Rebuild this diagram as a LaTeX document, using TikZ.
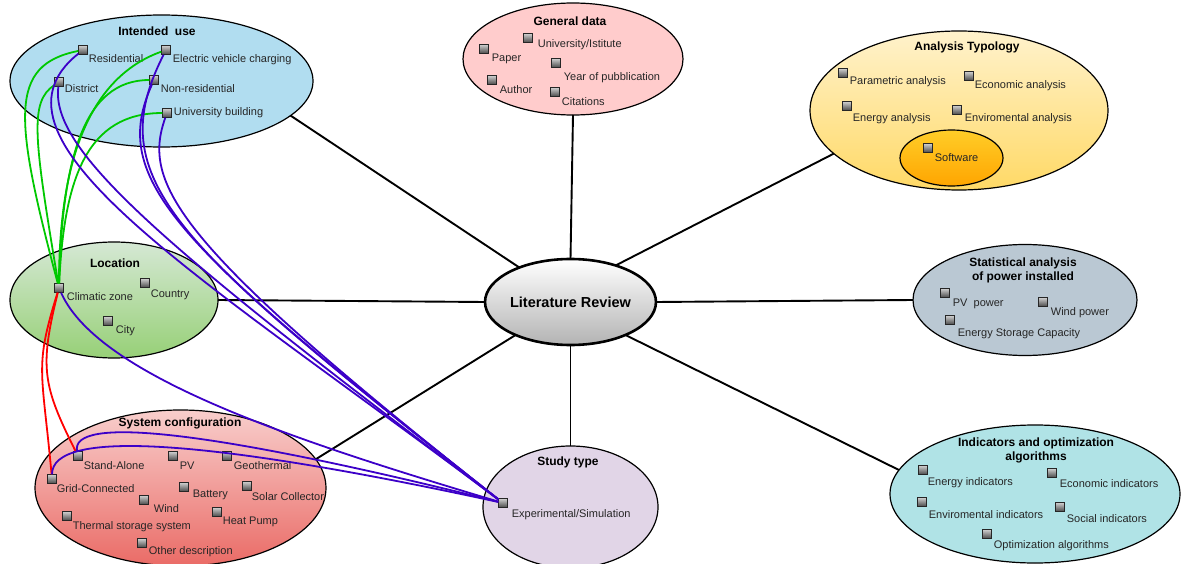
\documentclass[tikz,border=0pt]{standalone}
\usepackage{fontspec}
\setmainfont{Liberation Sans}
\usetikzlibrary{shapes.geometric, positioning}

\definecolor{usefill}{HTML}{B1DDF0}
\definecolor{genfill}{HTML}{FFCCCC}
\definecolor{anatop}{HTML}{FFF2CC}
\definecolor{anabot}{HTML}{FFD966}
\definecolor{swtop}{HTML}{FFCD28}
\definecolor{swbot}{HTML}{FFA500}
\definecolor{loctop}{HTML}{D5E8D4}
\definecolor{locbot}{HTML}{97D077}
\definecolor{litbot}{HTML}{B3B3B3}
\definecolor{statfill}{HTML}{BAC8D3}
\definecolor{systop}{HTML}{F8CECC}
\definecolor{sysbot}{HTML}{EA6B66}
\definecolor{studyfill}{HTML}{E1D5E7}
\definecolor{indfill}{HTML}{B0E3E6}
\definecolor{relgreen}{RGB}{0,200,0}
\definecolor{relblue}{RGB}{60,0,200}
\definecolor{relred}{RGB}{255,0,0}

\begin{document}
\begin{tikzpicture}[
    x=1pt, y=-1pt,
    group/.style={ellipse, draw=black, line width=1.2pt, inner sep=0pt, outer sep=0pt},
    ttl/.style={font=\bfseries\fontsize{12}{14}\selectfont, inner sep=0pt, text height=8.6pt, text depth=0pt},
    ttltwo/.style={font=\bfseries\fontsize{12}{14}\selectfont, inner sep=0pt, align=center},
    sq/.style={rectangle, draw=black!85, top color=black!20, bottom color=black!70, minimum size=8.5pt, inner sep=0pt, line width=0.9pt},
    lbl/.style={font=\fontsize{11}{13}\selectfont, text=black!85, inner sep=0pt, text height=7.9pt, text depth=2pt},
    link/.style={draw=black, line width=1.9pt},
    greenrel/.style={draw=relgreen, line width=1.8pt},
    bluerel/.style={draw=relblue, line width=1.8pt},
    redrel/.style={draw=relred, line width=1.8pt}
]
    \path[use as bounding box, fill=white] (0,0) rectangle (1181,564);

    % groups
    \node[group, fill=usefill, minimum width=303pt, minimum height=132pt] (use) at (161.5,81) {};
    \node[group, fill=genfill, minimum width=220pt, minimum height=112pt] (gen) at (573,59) {};
    \node[group, top color=anatop, bottom color=anabot, minimum width=298pt, minimum height=159pt] (ana) at (959,110.5) {};
    \node[group, top color=swtop, bottom color=swbot, minimum width=103pt, minimum height=56pt] (soft) at (951.5,158) {};
    \node[group, top color=loctop, bottom color=locbot, minimum width=208pt, minimum height=116pt] (loc) at (114,300) {};
    \node[group, line width=2.6pt, top color=white, bottom color=litbot, minimum width=159pt, minimum height=86pt,
          font=\bfseries\fontsize{14.5}{17}\selectfont, text height=10.4pt, text depth=0pt] (lit) at (570.5,302) {Literature Review};
    \node[group, fill=statfill, minimum width=224pt, minimum height=111pt] (stat) at (1025,300) {};
    \node[group, top color=systop, bottom color=sysbot, minimum width=291pt, minimum height=156pt] (sys) at (180.5,488) {};
    \node[group, fill=studyfill, minimum width=175pt, minimum height=122pt] (study) at (570.5,507) {};
    \node[group, fill=indfill, minimum width=290pt, minimum height=138pt] (ind) at (1035,494) {};

    % titles
    \node[ttl] (useT) at (157,31) {Intended\ \ use};
    \node[ttl] (genT) at (570,21) {General data};
    \node[ttl] (anaT) at (967,46) {Analysis Typology};
    \node[ttl] (locT) at (115,263) {Location};
    \node[ttltwo] (statT) at (1023,270) {Statistical analysis\\of power installed};
    \node[ttl] (sysT) at (180,422) {System configuration};
    \node[ttl] (studyT) at (568,461) {Study type};
    \node[ttltwo] (indT) at (1036,450) {Indicators and optimization\\algorithms};

    % Intended use
    \node[sq] (res) at (83,50) {};       \node[lbl, below right=0pt and 1pt of res] (resT) {Residential};
    \node[sq] (ev) at (166,50) {};       \node[lbl, below right=0pt and 2pt of ev] (evT) {Electric vehicle charging};
    \node[sq] (dist) at (59,82) {};      \node[lbl, below right=-2pt and 1pt of dist] (distT) {District};
    \node[sq] (nonres) at (154,80) {};   \node[lbl, below right=0pt and 2pt of nonres] (nonresT) {Non-residential};
    \node[sq] (uni) at (167,113) {};     \node[lbl, right=2pt of uni] (uniT) {University building};

    % General data
    \node[sq] (paper) at (484,49) {};    \node[lbl, below right=0pt and 3pt of paper] (paperT) {Paper};
    \node[sq] (inst) at (528,38) {};     \node[lbl, below right=-3pt and 5pt of inst] (instT) {University/Istitute};
    \node[sq] (year) at (556,63) {};     \node[lbl, below right=5pt and 3pt of year] (yearT) {Year of pubblication};
    \node[sq] (author) at (492,80) {};   \node[lbl, below right=1pt and 3pt of author] (authorT) {Author};
    \node[sq] (cit) at (555,92) {};      \node[lbl, below right=1pt and 2pt of cit] (citT) {Citations};

    % Analysis Typology
    \node[sq] (param) at (843,73) {};    \node[lbl, below right=-1pt and 2pt of param] (paramT) {Parametric analysis};
    \node[sq] (econ) at (969,76) {};     \node[lbl, below right=0pt and 1pt of econ] (econT) {Economic analysis};
    \node[sq] (energy) at (847,106) {};  \node[lbl, below right=3pt and 1pt of energy] (energyT) {Energy analysis};
    \node[sq] (envir) at (957,110) {};   \node[lbl, below right=-1pt and 3pt of envir] (envirT) {Enviromental analysis};
    \node[sq] (sw) at (928,148) {};      \node[lbl, below right=1pt and 2pt of sw] (swT) {Software};

    % Location
    \node[sq] (clim) at (59,288) {};     \node[lbl, below right=0pt and 3pt of clim] (climT) {Climatic zone};
    \node[sq] (country) at (145,283) {}; \node[lbl, below right=2pt and 1pt of country] (countryT) {Country};
    \node[sq] (city) at (108,321) {};    \node[lbl, below right=0pt and 3pt of city] (cityT) {City};

    % Statistical analysis
    \node[sq] (pvp) at (945,293) {};     \node[lbl, below right=1pt and 3pt of pvp] (pvpT) {PV\ \ power};
    \node[sq] (windp) at (1043,302) {};  \node[lbl, below right=1pt and 3pt of windp] (windpT) {Wind power};
    \node[sq] (ess) at (950,320) {};     \node[lbl, below right=4pt and 3pt of ess] (essT) {Energy Storage Capacity};

    % System configuration
    \node[sq] (sa) at (78,456) {};       \node[lbl, below right=1pt and 1pt of sa] (saT) {Stand-Alone};
    \node[sq] (pv) at (173,456) {};      \node[lbl, below right=1pt and 2pt of pv] (pvT) {PV};
    \node[sq] (geo) at (227,456) {};     \node[lbl, below right=1pt and 2pt of geo] (geoT) {Geothermal};
    \node[sq] (grid) at (52,479) {};     \node[lbl, below right=1pt and 0pt of grid] (gridT) {Grid-Connected};
    \node[sq] (batt) at (184,487) {};    \node[lbl, below right=-2pt and 4pt of batt] (battT) {Battery};
    \node[sq] (solar) at (247,486) {};   \node[lbl, below right=2pt and 0pt of solar] (solarT) {Solar Collector};
    \node[sq] (wind) at (144,500) {};    \node[lbl, below right=0pt and 5pt of wind] (windT) {Wind};
    \node[sq] (hp) at (217,512) {};      \node[lbl, below right=0pt and 1pt of hp] (hpT) {Heat Pump};
    \node[sq] (tss) at (67,516) {};      \node[lbl, below right=1pt and 1pt of tss] (tssT) {Thermal storage system};
    \node[sq] (other) at (142,543) {};   \node[lbl, below right=-1pt and 2pt of other] (otherT) {Other description};

    % Study type
    \node[sq] (exp) at (503,503) {};     \node[lbl, below right=2pt and 4pt of exp] (expT) {Experimental/Simulation};

    % Indicators
    \node[sq] (ei) at (923,470) {};      \node[lbl, below right=3pt and 0pt of ei] (eiT) {Energy indicators};
    \node[sq] (eci) at (1052,473) {};    \node[lbl, below right=2pt and 3pt of eci] (eciT) {Economic indicators};
    \node[sq] (envi) at (922,502) {};    \node[lbl, below right=4pt and 2pt of envi] (enviT) {Enviromental indicators};
    \node[sq] (soc) at (1060,507) {};    \node[lbl, below right=3pt and 2pt of soc] (socT) {Social indicators};
    \node[sq] (opt) at (987,534) {};     \node[lbl, below right=2pt and 2pt of opt] (optT) {Optimization algorithms};

    % links to the centre
    \draw[link] (lit.146) -- (use.-15);
    \draw[link] (lit.north) -- (gen.south);
    \draw[link] (lit.39) -- (ana.199);
    \draw[link] (lit.west) -- (loc.east);
    \draw[link] (lit.east) -- (stat.west);
    \draw[link] (lit.211) -- (sys.12);
    \draw[link] (lit.south) -- (study.north);
    \draw[link] (lit.-31) -- (ind.170);

    % intended use -- climatic zone
    \draw[greenrel] (res) .. controls +(-75,15) and +(-45,-170) .. (clim);
    \draw[greenrel] (dist) .. controls +(-30,20) and +(-25,-150) .. (clim);
    \draw[greenrel] (ev) .. controls +(-70,25) and +(0,-140) .. (clim);
    \draw[greenrel] (nonres) .. controls +(-70,0) and +(3,-130) .. (clim);
    \draw[greenrel] (uni) .. controls +(-80,0) and +(5,-110) .. (clim);

    % climatic zone -- system configuration
    \draw[redrel] (clim) .. controls +(-20,80) and +(-35,-70) .. (sa);
    \draw[redrel] (clim) .. controls +(-25,80) and +(-10,-110) .. (grid);

    % everything -- experimental/simulation
    \draw[bluerel] (res) .. controls +(-113,90) and +(-302,-227) .. (exp);
    \draw[bluerel] (dist) .. controls +(-9,68) and +(-343,-258) .. (exp);
    \draw[bluerel] (ev) .. controls +(-66,130) and +(-330,-260) .. (exp);
    \draw[bluerel] (nonres) .. controls +(-45,100) and +(-330,-260) .. (exp);
    \draw[bluerel] (uni) .. controls +(-25,70) and +(-330,-260) .. (exp);
    \draw[bluerel] (clim) .. controls +(40,90) and +(-200,-60) .. (exp);
    \draw[bluerel] (sa) .. controls +(-8,-40) and +(-300,-75) .. (exp);
    \draw[bluerel] (grid) .. controls +(0,-50) and +(-300,-65) .. (exp);
\end{tikzpicture}
\end{document}
